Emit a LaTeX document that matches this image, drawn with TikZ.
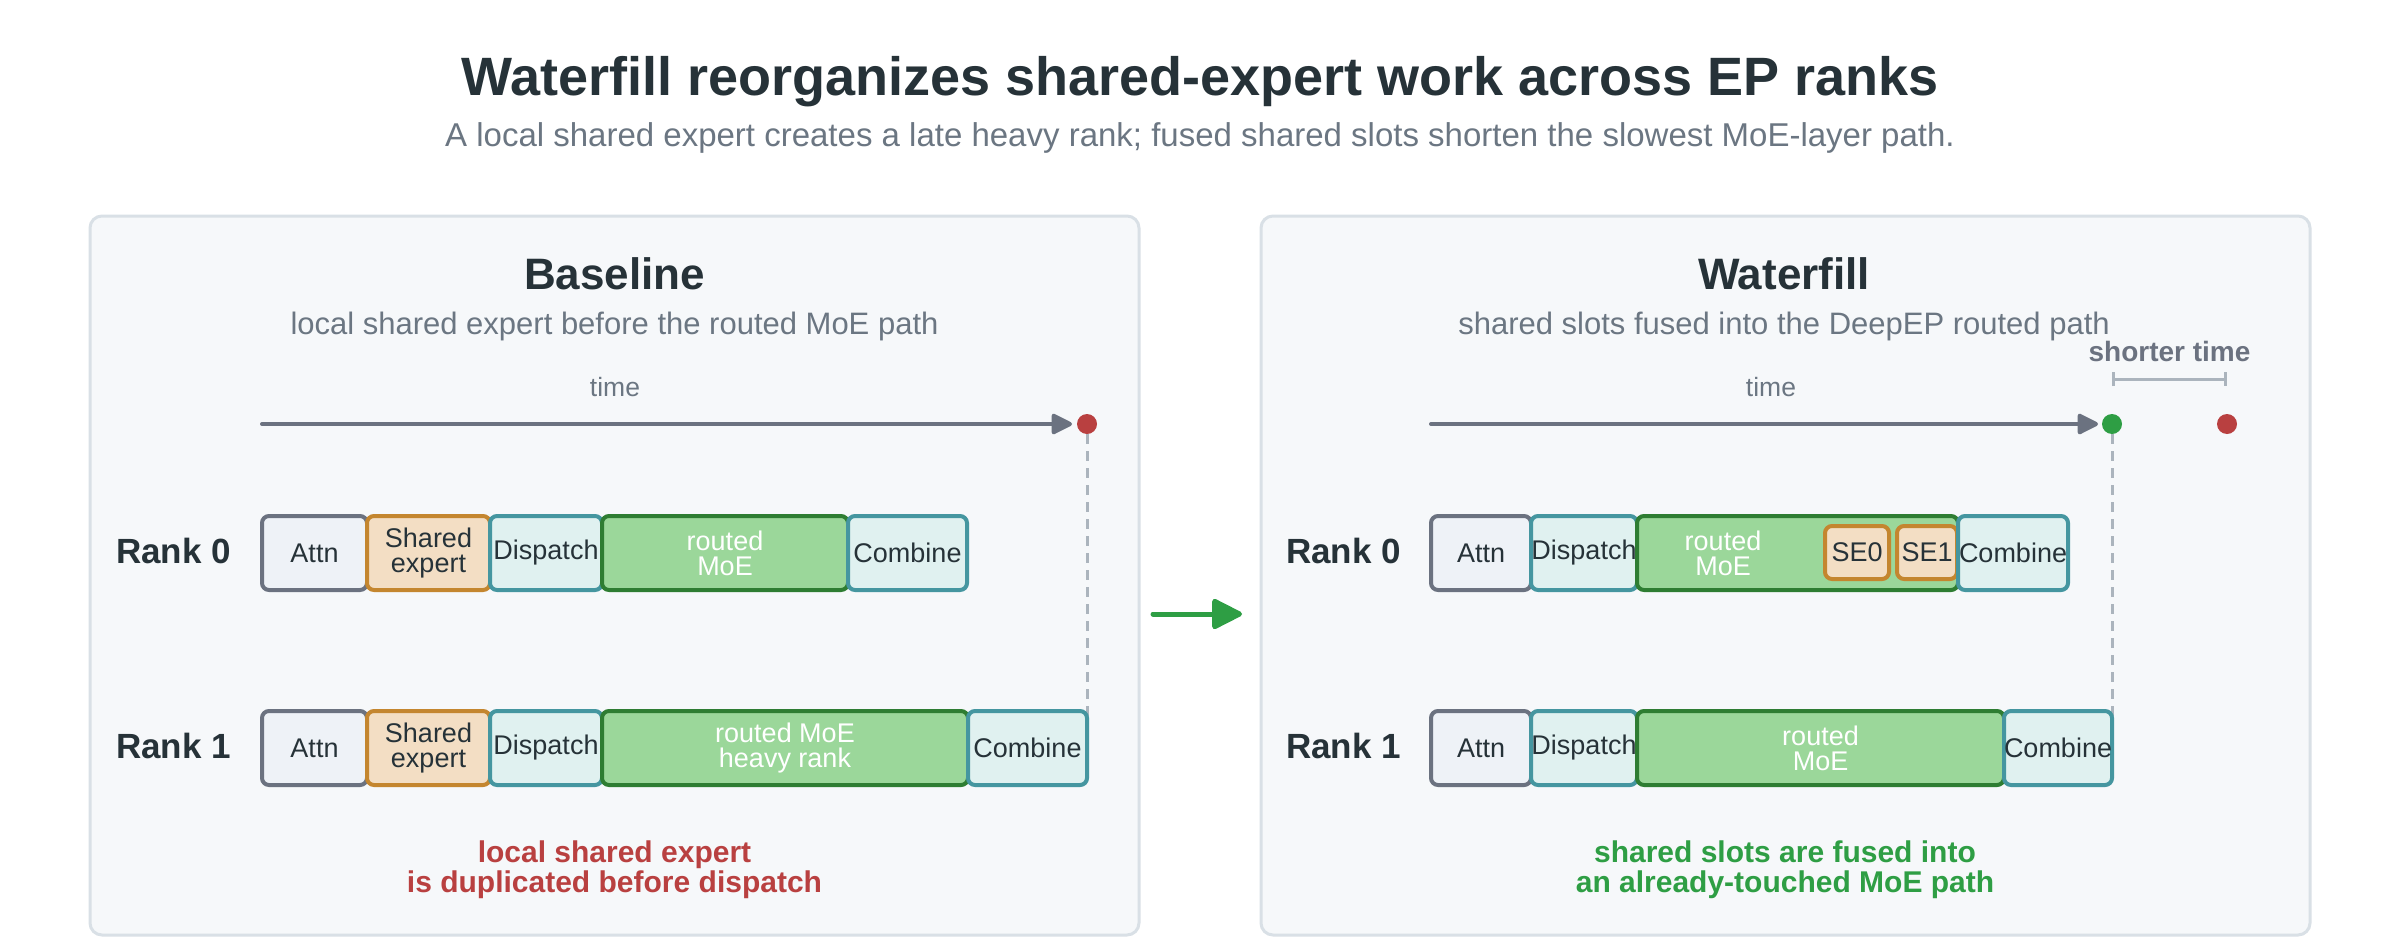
\documentclass[tikz,border=0pt]{standalone}
\usepackage{fontspec}
\setmainfont{Liberation Sans}
\usetikzlibrary{arrows.meta}
\definecolor{ink}{HTML}{263238}
\definecolor{muted}{HTML}{6B7682}
\definecolor{axis}{HTML}{6B7280}
\definecolor{panelF}{HTML}{F6F8FA}
\definecolor{panelS}{HTML}{D9E0E6}
\definecolor{attnF}{HTML}{EEF2F7}
\definecolor{attnS}{HTML}{6B7280}
\definecolor{shF}{HTML}{F3DEC4}
\definecolor{shS}{HTML}{C4862F}
\definecolor{tlF}{HTML}{E0F1F0}
\definecolor{tlS}{HTML}{4596A0}
\definecolor{grF}{HTML}{9BD79A}
\definecolor{grS}{HTML}{2E7D32}
\definecolor{redc}{HTML}{B94040}
\definecolor{greenc}{HTML}{2E9E44}
\definecolor{dashc}{HTML}{ABB4BD}
\begin{document}
\begin{tikzpicture}[x=1pt,y=-1pt,
  panel/.style={draw=panelS, fill=panelF, line width=3pt, rounded corners=12pt, inner sep=0pt},
  blk/.style={draw, line width=4pt, rounded corners=7pt, inner sep=0pt, minimum height=74pt,
    align=center, font=\fontsize{27}{25}\selectfont, text=ink},
  attnblk/.style={blk, draw=attnS, fill=attnF},
  sharedblk/.style={blk, draw=shS, fill=shF},
  tealblk/.style={blk, draw=tlS, fill=tlF},
  moeblk/.style={blk, draw=grS, fill=grF, text=white},
  seblk/.style={blk, draw=shS, fill=shF, minimum height=53pt},
  ranklbl/.style={anchor=base west, inner sep=0pt, text=ink, font=\fontsize{35}{40}\selectfont\bfseries},
  ptitle/.style={anchor=base, inner sep=0pt, text=ink, font=\fontsize{44}{50}\selectfont\bfseries},
  psub/.style={anchor=base, inner sep=0pt, text=muted, font=\fontsize{31}{34}\selectfont},
  timelbl/.style={anchor=base, inner sep=0pt, text=muted, font=\fontsize{26.5}{30}\selectfont},
  timearrow/.style={draw=axis, line width=4pt, line cap=round, -{Triangle[length=23pt,width=22pt,round]}},
  dot/.style={circle, inner sep=0pt, minimum size=20pt},
  dashline/.style={draw=dashc, line width=3pt, dash pattern=on 10pt off 7pt},
  note/.style={align=center, inner sep=0pt, font=\fontsize{30}{30}\selectfont\bfseries}
]
\useasboundingbox[fill=white] (0,0) rectangle (2400,937);

% titles
\node[anchor=base, inner sep=0pt, text=ink, font=\fontsize{54}{60}\selectfont\bfseries] (title) at (1200,95)
  {Waterfill reorganizes shared-expert work across EP ranks};
\node[anchor=base, inner sep=0pt, text=muted, font=\fontsize{33}{36}\selectfont] (subtitle) at (1200,146)
  {A local shared expert creates a late heavy rank; fused shared slots shorten the slowest MoE-layer path.};

% panels
\node[panel, minimum width=1049pt, minimum height=719pt] (pL) at (614.5,575.5) {};
\node[panel, minimum width=1049pt, minimum height=719pt] (pR) at (1785.5,575.5) {};

% ---------- Baseline ----------
\node[ptitle] (tL) at (614.5,289) {Baseline};
\node[psub] (sL) at (614.5,334) {local shared expert before the routed MoE path};
\node[timelbl] (timeL) at (615,396) {time};
\coordinate (tLs) at (262,424);
\coordinate (tLe) at (1072,424);
\draw[timearrow] (tLs) -- (tLe);
\node[dot, fill=redc] (dL) at (1087,424) {};
\coordinate (dLe) at (1087,735);
\draw[dashline] (dL) -- (dLe);

\node[ranklbl] (rL0) at (116,563) {Rank 0};
\node[ranklbl] (rL1) at (116,758) {Rank 1};

\node[attnblk, minimum width=105pt] (la0) at (314.5,553) {Attn};
\node[sharedblk, minimum width=123pt] (ls0) at (428.5,553) {Shared\\expert};
\node[tealblk, minimum width=112pt] (ld0) at (546,553) {Dispatch};
\node[moeblk, minimum width=246pt] (lm0) at (725,553) {routed\\MoE};
\node[tealblk, minimum width=119pt] (lc0) at (907.5,553) {Combine};

\node[attnblk, minimum width=105pt] (la1) at (314.5,748) {Attn};
\node[sharedblk, minimum width=123pt] (ls1) at (428.5,748) {Shared\\expert};
\node[tealblk, minimum width=112pt] (ld1) at (546,748) {Dispatch};
\node[moeblk, minimum width=366pt] (lm1) at (785,748) {routed MoE\\heavy rank};
\node[tealblk, minimum width=119pt] (lc1) at (1027.5,748) {Combine};

\node[note, text=redc] (nL) at (614.5,870) {local shared expert\\is duplicated before dispatch};

% middle arrow
\coordinate (mA) at (1153,614);
\coordinate (mB) at (1242,614);
\draw[draw=greenc, line width=5pt, line cap=round, -{Triangle[length=33pt,width=32pt,round]}] (mA) -- (mB);

% ---------- Waterfill ----------
\node[ptitle] (tR) at (1784,289) {Waterfill};
\node[psub] (sR) at (1784,334) {shared slots fused into the DeepEP routed path};
\node[timelbl] (timeR) at (1771,396) {time};
\node[anchor=base, inner sep=0pt, text=axis, font=\fontsize{28}{30}\selectfont\bfseries] (shortL) at (2169.5,361) {shorter time};
\coordinate (bA) at (2112,379);
\coordinate (bB) at (2227,379);
\draw[draw=dashc, line width=3pt, {Bar[width=14pt]}-{Bar[width=14pt]}] (bA) -- (bB);

\coordinate (tRs) at (1431,424);
\coordinate (tRe) at (2098,424);
\draw[timearrow] (tRs) -- (tRe);
\node[dot, fill=greenc] (dR) at (2112,424) {};
\node[dot, fill=redc] (dR2) at (2227,424) {};
\coordinate (dRe) at (2112,735);
\draw[dashline] (dR) -- (dRe);

\node[ranklbl] (rR0) at (1286,563) {Rank 0};
\node[ranklbl] (rR1) at (1286,758) {Rank 1};

\node[attnblk, minimum width=100pt] (ra0) at (1481,553) {Attn};
\node[tealblk, minimum width=106pt] (rd0) at (1584,553) {Dispatch};
\node[moeblk, minimum width=321pt] (rm0) at (1797.5,553) {};
\node[align=center, inner sep=0pt, text=white, font=\fontsize{27}{25}\selectfont] (rm0t) at (1723,553) {routed\\MoE};
\node[seblk, minimum width=64pt] (rs0) at (1857,552.5) {SE0};
\node[seblk, minimum width=60pt] (rs1) at (1927,552.5) {SE1};
\node[tealblk, minimum width=110pt] (rc0) at (2013,553) {Combine};

\node[attnblk, minimum width=100pt] (ra1) at (1481,748) {Attn};
\node[tealblk, minimum width=106pt] (rd1) at (1584,748) {Dispatch};
\node[moeblk, minimum width=367pt] (rm1) at (1820.5,748) {routed\\MoE};
\node[tealblk, minimum width=108pt] (rc1) at (2058,748) {Combine};

\node[note, text=greenc] (nR) at (1785,870) {shared slots are fused into\\an already-touched MoE path};
\end{tikzpicture}
\end{document}
